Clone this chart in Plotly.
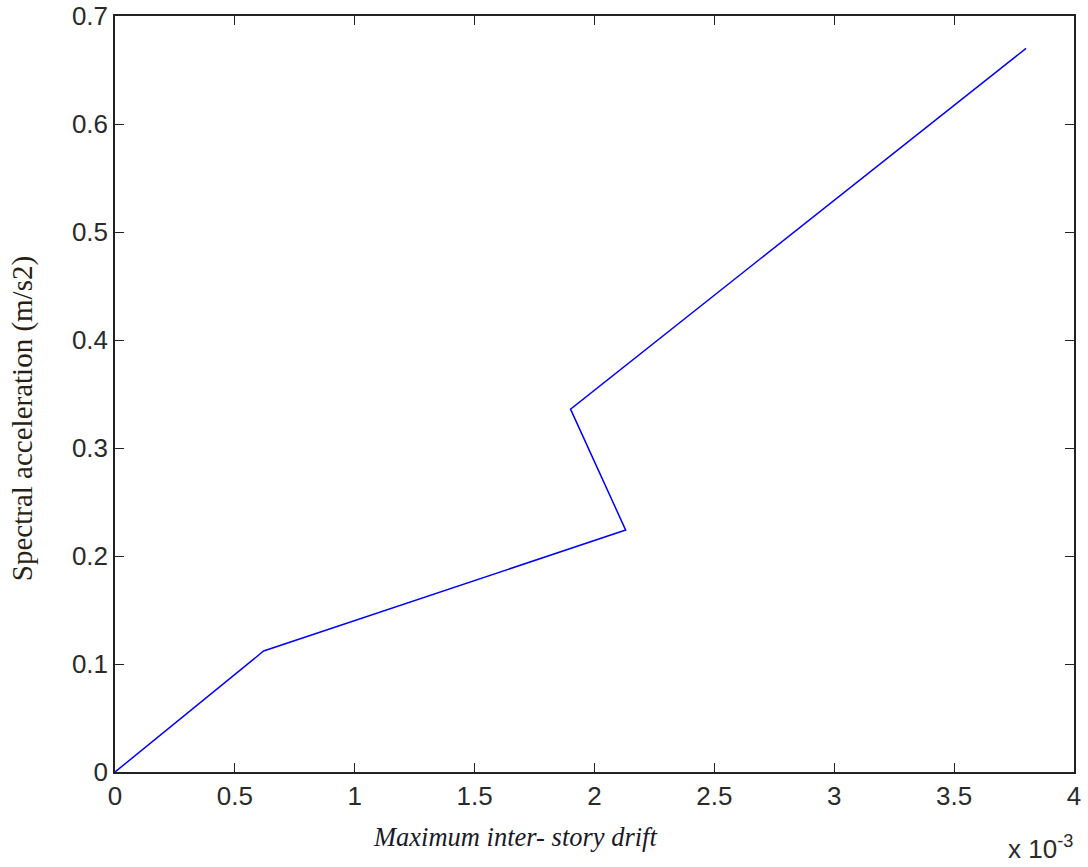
import plotly.graph_objects as go

# Data (x in units of 1e-3)
drift_e3 = [0.0, 0.62, 2.13, 1.90, 3.80]
spectral_acc = [0.0, 0.112, 0.224, 0.336, 0.670]

x_ticks = [0, 0.5, 1, 1.5, 2, 2.5, 3, 3.5, 4]
x_ticklabels = ["0", "0.5", "1", "1.5", "2", "2.5", "3", "3.5", "4"]
y_ticks = [0, 0.1, 0.2, 0.3, 0.4, 0.5, 0.6, 0.7]
y_ticklabels = ["0", "0.1", "0.2", "0.3", "0.4", "0.5", "0.6", "0.7"]

fig = go.Figure()
fig.add_trace(go.Scatter(x=drift_e3, y=spectral_acc, mode="lines",
                         line=dict(color="#0000FF", width=1.5),
                         showlegend=False, hoverinfo="skip"))

axis_common = dict(showline=True, linecolor="#222222", linewidth=1.5, mirror="ticks",
                   ticks="inside", ticklen=9, tickwidth=1.2, tickcolor="#222222",
                   showgrid=False, zeroline=False, automargin=False,
                   tickfont=dict(family="Liberation Sans, Arial", size=26, color="#2a2a2a"))

fig.update_layout(
    width=1088, height=867,
    margin=dict(l=115, r=14, t=16, b=95, autoexpand=False),
    plot_bgcolor="white", paper_bgcolor="white",
    xaxis=dict(range=[0, 4], tickvals=x_ticks, ticktext=x_ticklabels, **axis_common),
    yaxis=dict(range=[0, 0.7], tickvals=y_ticks, ticktext=y_ticklabels, **axis_common),
)

fig.add_annotation(text="Spectral acceleration (m/s2)", textangle=-90,
                   xref="paper", yref="paper", x=-0.097, y=0.468,
                   xanchor="center", yanchor="middle", showarrow=False,
                   font=dict(family="Liberation Serif, Times New Roman", size=29, color="#2a1f14"))
fig.add_annotation(text="<i>Maximum inter- story drift</i>",
                   xref="paper", yref="paper", x=0.417, y=-0.086,
                   xanchor="center", yanchor="middle", showarrow=False,
                   font=dict(family="Liberation Serif, Times New Roman", size=26.5, color="#1a1a2a"))
fig.add_annotation(text="x 10<sup>-3</sup>",
                   xref="paper", yref="paper", x=1.001, y=-0.1,
                   xanchor="right", yanchor="middle", showarrow=False,
                   font=dict(family="Liberation Sans, Arial", size=26, color="#2a2a2a"))

fig.write_html("out.html")
